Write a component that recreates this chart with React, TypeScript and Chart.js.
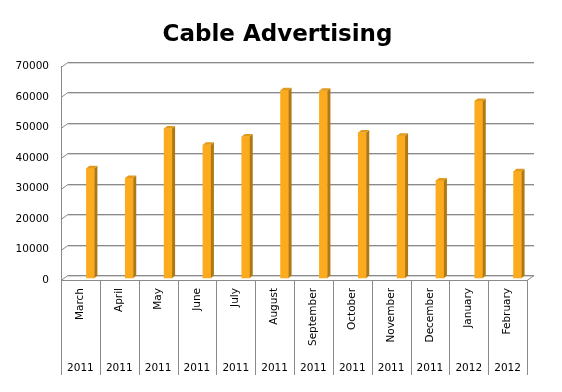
import React, { useEffect, useRef } from 'react';
import { Chart, registerables } from 'chart.js';

Chart.register(...registerables);

const chartTitle = 'Cable Advertising';
const months = ['March', 'April', 'May', 'June', 'July', 'August', 'September', 'October', 'November', 'December', 'January', 'February'];
const years = ['2011', '2011', '2011', '2011', '2011', '2011', '2011', '2011', '2011', '2011', '2012', '2012'];
const spend = [36000, 32800, 49000, 43700, 46400, 61600, 61400, 47700, 46700, 32000, 58100, 35000];
const yMin = 0;
const yMax = 70000;
const yStep = 10000;

const FONT = 'DejaVu Sans';
const LINE = '#8a8a8a';
const FRONT = '#FCAB1F';
const SIDE = '#B07812';
const TOPF = '#E29A1C';
const BAR_DX = 10;
const BAR_DY = -2;
const WALL_DX = 7;
const WALL_DY = -5;

const wallPlugin = {
  id: 'wall3d',
  beforeDatasetsDraw(chart: any) {
    const { ctx, chartArea: a } = chart;
    const y = chart.scales.y;
    ctx.save();
    ctx.lineWidth = 1;
    for (let v = yMin; v <= yMax; v += yStep) {
      const py = Math.round(y.getPixelForValue(v)) + 0.5;
      ctx.strokeStyle = '#d6d6d6';
      ctx.beginPath();
      ctx.moveTo(a.left + WALL_DX, py + WALL_DY + 1);
      ctx.lineTo(a.right + WALL_DX, py + WALL_DY + 1);
      ctx.stroke();
      ctx.strokeStyle = LINE;
      ctx.beginPath();
      ctx.moveTo(a.left, py);
      ctx.lineTo(a.left + WALL_DX, py + WALL_DY);
      ctx.lineTo(a.right + WALL_DX, py + WALL_DY);
      ctx.stroke();
    }
    const by = Math.round(y.getPixelForValue(yMin)) + 0.5;
    ctx.beginPath();
    ctx.moveTo(a.right, by);
    ctx.lineTo(a.right + WALL_DX, by + WALL_DY);
    ctx.stroke();
    ctx.restore();
    ctx.save();
    ctx.translate(BAR_DX, BAR_DY);
  },
  afterDatasetsDraw(chart: any) {
    const ctx = chart.ctx;
    const meta = chart.getDatasetMeta(0);
    meta.data.forEach((el: any) => {
      const { x, y, base, width } = el.getProps(['x', 'y', 'base', 'width'], true);
      const l = x - width / 2;
      const r = x + width / 2;
      ctx.fillStyle = SIDE;
      ctx.beginPath();
      ctx.moveTo(r, y);
      ctx.lineTo(r + 3, y - 2.5);
      ctx.lineTo(r + 3, base - 2.5);
      ctx.lineTo(r, base);
      ctx.closePath();
      ctx.fill();
      ctx.fillStyle = TOPF;
      ctx.beginPath();
      ctx.moveTo(l, y);
      ctx.lineTo(l + 3, y - 2.5);
      ctx.lineTo(r + 3, y - 2.5);
      ctx.lineTo(r, y);
      ctx.closePath();
      ctx.fill();
    });
    ctx.restore();
    const a = chart.chartArea;
    const n = chart.data.labels.length;
    ctx.save();
    ctx.strokeStyle = LINE;
    ctx.lineWidth = 1;
    for (let i = 0; i <= n; i++) {
      const px = Math.round(a.left + (i * (a.right - a.left)) / n) + 0.5;
      ctx.beginPath();
      ctx.moveTo(px, a.bottom);
      ctx.lineTo(px, a.bottom + 95);
      ctx.stroke();
    }
    ctx.restore();
  },
};

export default function App() {
  const ref = useRef<HTMLCanvasElement | null>(null);
  useEffect(() => {
    if (!ref.current) return;
    const chart = new Chart(ref.current, {
      type: 'bar',
      data: {
        labels: months,
        datasets: [
          {
            label: chartTitle,
            data: spend,
            backgroundColor: FRONT,
            borderWidth: 0,
            barThickness: 8,
            clip: false as any,
          },
        ],
      },
      plugins: [wallPlugin],
      options: {
        responsive: false,
        animation: false,
        layout: { padding: { top: 0, right: 7, bottom: 13, left: 0 } },
        plugins: {
          legend: { display: false },
          tooltip: { enabled: false },
          title: {
            display: true,
            text: chartTitle,
            color: '#000',
            font: { family: FONT, size: 23, weight: 'bold' },
            padding: { top: 21, bottom: 18 },
          },
        },
        scales: {
          x: {
            type: 'category',
            position: 'bottom',
            offset: true,
            grid: { display: false, drawTicks: false },
            border: { display: true, color: LINE },
            ticks: {
              autoSkip: false,
              minRotation: 90,
              maxRotation: 90,
              padding: 8,
              color: '#000',
              font: { family: FONT, size: 10.5 },
            },
            afterFit: (s: any) => {
              s.height = 77;
            },
          },
          x2: {
            type: 'category',
            position: 'bottom',
            labels: years,
            offset: true,
            grid: { display: false, drawTicks: false },
            border: { display: false },
            ticks: {
              autoSkip: false,
              minRotation: 0,
              maxRotation: 0,
              padding: 5,
              color: '#000',
              font: { family: FONT, size: 10.5 },
            },
            afterFit: (s: any) => {
              s.height = 22;
            },
          },
          y: {
            min: yMin,
            max: yMax,
            grid: { display: false, drawTicks: false },
            border: { display: true, color: LINE },
            ticks: {
              stepSize: yStep,
              padding: 12,
              color: '#000',
              font: { family: FONT, size: 10.5 },
              callback: (v: any) => String(v),
            },
            afterFit: (s: any) => {
              s.width = 61;
            },
          },
          ySpace: {
            type: 'linear',
            position: 'right',
            display: true,
            grid: { display: false, drawTicks: false },
            border: { display: false },
            ticks: { display: false },
            afterFit: (s: any) => {
              s.width = 28;
            },
          },
        },
      } as any,
    });
    return () => chart.destroy();
  }, []);
  return (
    <div style={{ position: 'fixed', left: 0, top: 0, width: 562, height: 392, background: '#fff' }}>
      <canvas ref={ref} width={562} height={392} />
    </div>
  );
}
